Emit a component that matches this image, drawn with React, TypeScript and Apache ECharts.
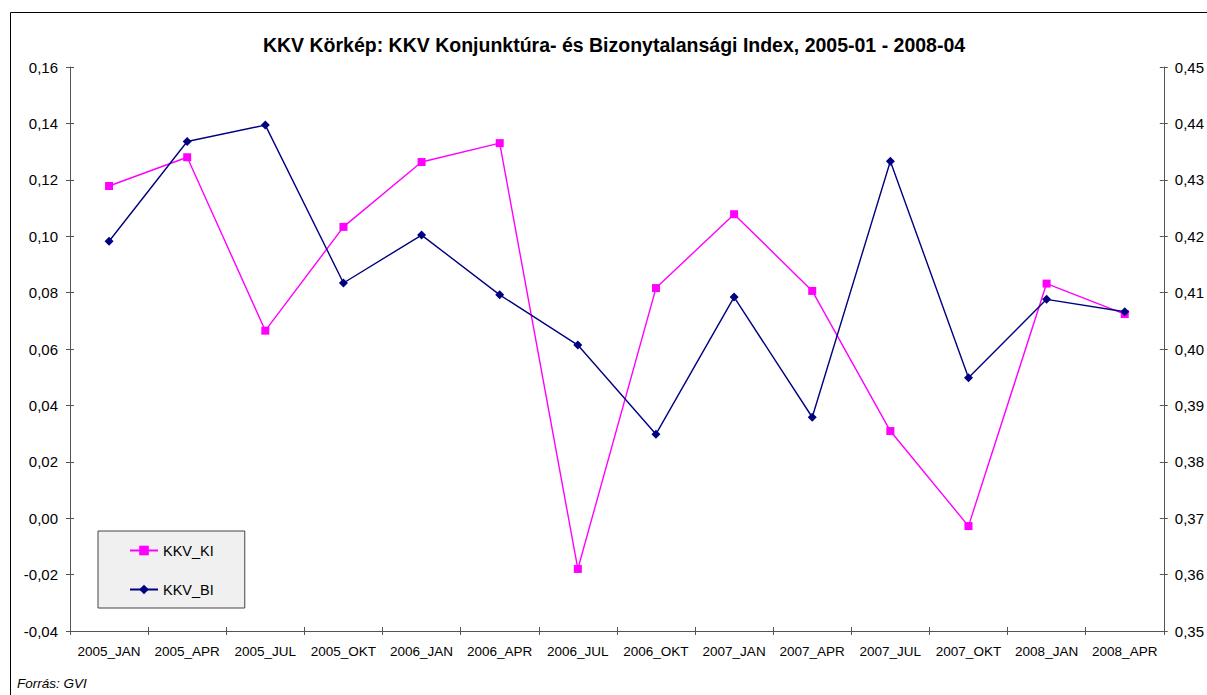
import React, { useEffect, useRef } from "react";
import * as echarts from "echarts";

const categories = [
  "2005_JAN", "2005_APR", "2005_JUL", "2005_OKT",
  "2006_JAN", "2006_APR", "2006_JUL", "2006_OKT",
  "2007_JAN", "2007_APR", "2007_JUL", "2007_OKT",
  "2008_JAN", "2008_APR",
];

const kkvKI = [
  0.1178, 0.128, 0.0665, 0.1033,
  0.1263, 0.133, -0.018, 0.0816,
  0.1078, 0.0806, 0.0309, -0.0028,
  0.0832, 0.0724,
];

const kkvBI = [
  0.4191, 0.4368, 0.4397, 0.4117,
  0.4202, 0.4096, 0.4007, 0.3849,
  0.4092, 0.3879, 0.4333, 0.3949,
  0.4088, 0.4066,
];

const leftTicks = { min: -0.04, max: 0.16, interval: 0.02 };
const rightTicks = { min: 0.35, max: 0.45, interval: 0.01 };

const titleText = "KKV Körkép: KKV Konjunktúra- és Bizonytalansági Index, 2005-01 - 2008-04";
const sourceText = "Forrás: GVI";

const FONT = "'Liberation Sans', Arial, sans-serif";
const AXIS_COLOR = "#555";
const fmt = (v: number) => v.toFixed(2).replace(".", ",");

export default function App() {
  const ref = useRef<HTMLDivElement>(null);
  useEffect(() => {
    if (!ref.current) return;
    const chart = echarts.init(ref.current, undefined, { renderer: "svg" });
    const axisLine = { show: true, onZero: false, lineStyle: { color: AXIS_COLOR, width: 1 } };
    const hiddenLine = { show: false, onZero: false };
    const outTick = { show: true, length: 4, lineStyle: { color: AXIS_COLOR } };
    const inTick = { show: true, inside: true, length: 4, lineStyle: { color: AXIS_COLOR } };
    const valueAxis = (range: { min: number; max: number; interval: number }, position: string, labels: boolean, margin: number) => ({
      type: "value",
      position,
      min: range.min,
      max: range.max,
      interval: range.interval,
      axisLine: labels ? axisLine : hiddenLine,
      axisTick: labels ? outTick : inTick,
      axisLabel: { show: labels, fontFamily: FONT, fontSize: 15, color: "#000", margin, formatter: fmt },
      splitLine: { show: false },
    });
    chart.setOption({
      animation: false,
      backgroundColor: "#ffffff",
      textStyle: { fontFamily: FONT },
      title: {
        text: titleText,
        left: 609,
        top: 30,
        textAlign: "center",
        textStyle: { fontFamily: FONT, fontSize: 19.5, fontWeight: "bold", color: "#000" },
      },
      grid: { left: 70, right: 43, top: 67, bottom: 64, containLabel: false },
      legend: {
        orient: "vertical",
        left: 98,
        top: 531,
        padding: [12, 31, 11, 31],
        itemGap: 24,
        itemWidth: 28,
        itemHeight: 12,
        backgroundColor: "#f0f0f0",
        borderColor: "#444",
        borderWidth: 1,
        textStyle: { fontFamily: FONT, fontSize: 14.5, color: "#000" },
        data: ["KKV_KI", "KKV_BI"],
      },
      xAxis: [
        {
          type: "category",
          data: categories,
          boundaryGap: true,
          axisLine,
          axisTick: outTick,
          axisLabel: { fontFamily: FONT, fontSize: 13.5, color: "#000", margin: 13, interval: 0 },
          splitLine: { show: false },
        },
        {
          type: "category",
          position: "bottom",
          data: categories,
          boundaryGap: true,
          axisLine: hiddenLine,
          axisTick: inTick,
          axisLabel: { show: false },
          splitLine: { show: false },
        },
      ],
      yAxis: [
        valueAxis(leftTicks, "left", true, 12),
        valueAxis(rightTicks, "right", true, 11),
        valueAxis(leftTicks, "left", false, 0),
        valueAxis(rightTicks, "right", false, 0),
      ],
      series: [
        {
          name: "KKV_KI",
          type: "line",
          yAxisIndex: 0,
          data: kkvKI,
          symbol: "rect",
          symbolSize: 8,
          itemStyle: { color: "#ff00ff" },
          lineStyle: { color: "#ff00ff", width: 1.4 },
        },
        {
          name: "KKV_BI",
          type: "line",
          yAxisIndex: 1,
          data: kkvBI,
          symbol: "diamond",
          symbolSize: 9,
          itemStyle: { color: "#000080" },
          lineStyle: { color: "#000080", width: 1.4 },
        },
      ],
      graphic: [
        {
          type: "rect",
          shape: { x: 10.5, y: 12.5, width: 1220, height: 720 },
          style: { fill: "none", stroke: "#000", lineWidth: 1 },
          silent: true,
        },
        {
          type: "text",
          left: 17,
          top: 676,
          style: {
            text: sourceText,
            fontFamily: FONT,
            fontSize: 13.5,
            fontStyle: "italic",
            fill: "#000",
          },
        },
      ],
    });
    return () => chart.dispose();
  }, []);
  return (
    <div
      ref={ref}
      style={{ position: "absolute", left: 0, top: 0, width: 1207, height: 695 }}
    />
  );
}
